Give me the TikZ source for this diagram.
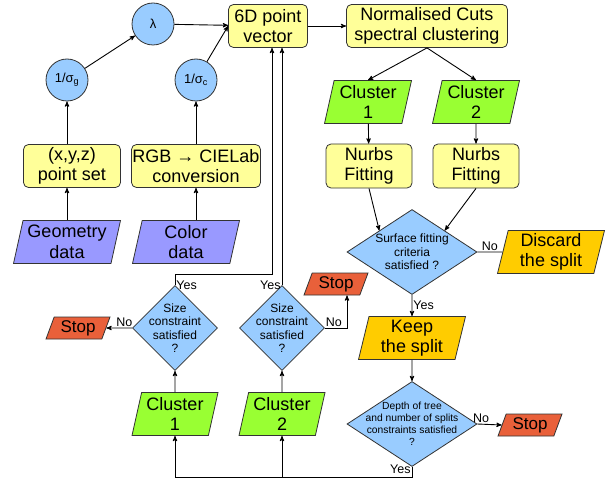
\documentclass[tikz,border=0pt]{standalone}
\usepackage{fontspec}
\setmainfont{Liberation Sans}
\usetikzlibrary{arrows}
\usetikzlibrary{shapes.geometric}

\definecolor{boxyellow}{HTML}{FFFF99}
\definecolor{paleblue}{HTML}{99CCFF}
\definecolor{datablue}{HTML}{9999FF}
\definecolor{clustergreen}{HTML}{99FF33}
\definecolor{stopred}{HTML}{E9603A}
\definecolor{splitorange}{HTML}{FFCC00}
\definecolor{linegray}{HTML}{333333}

\tikzset{
 every node/.style={font=\fontsize{18}{20.5}\selectfont, align=center},
 procbox/.style={draw=linegray, line width=0.8, fill=boxyellow, rounded corners=5, inner sep=0, minimum height=43},
 weightnode/.style={circle, draw=linegray, line width=0.8, fill=paleblue, minimum size=42, inner sep=0, font=\fontsize{13}{15}\selectfont},
 iobox/.style={trapezium, trapezium left angle=74, trapezium right angle=106, trapezium stretches body, draw=linegray, line width=0.8, inner sep=0, minimum height=43},
 stopbox/.style={iobox, fill=stopred, minimum height=22, minimum width=64, trapezium left angle=62, trapezium right angle=118, font=\fontsize{17}{19}\selectfont},
 decision/.style={diamond, draw=linegray, line width=0.8, fill=paleblue, inner sep=0},
 flow/.style={->, >=stealth', line width=0.9},
 tag/.style={font=\fontsize{12.5}{14}\selectfont, inner sep=1},
}

\begin{document}
\begin{tikzpicture}[x=1pt, y=-1pt]
\useasboundingbox (0,0) rectangle (609,481);

% data and preprocessing
\node[iobox, fill=datablue, minimum width=107] (geo) at (67,242) {Geometry\\data};
\node[iobox, fill=datablue, minimum width=107] (col) at (186,242) {Color\\data};
\node[procbox, minimum width=97] (xyz) at (72,166) {(x,y,z)\\point set};
\node[procbox, minimum width=129] (rgb) at (196,166) {RGB → CIELab\\conversion};
\node[weightnode] (sg) at (67,80) {1/σ\textsubscript{g}};
\node[weightnode] (sc) at (196,80) {1/σ\textsubscript{c}};
\node[weightnode] (lam) at (153,24) {λ};
\node[procbox, minimum width=79] (vec) at (268,26) {6D point\\vector};
\node[procbox, minimum width=161] (ncut) at (427,26) {Normalised Cuts\\spectral clustering};

% splitting branch
\node[iobox, fill=clustergreen, minimum width=87] (cla) at (368,102) {Cluster\\1};
\node[iobox, fill=clustergreen, minimum width=87] (clb) at (476,102) {Cluster\\2};
\node[procbox, minimum width=86, minimum height=44] (nfa) at (369,166) {Nurbs\\Fitting};
\node[procbox, minimum width=86, minimum height=44] (nfb) at (476,166) {Nurbs\\Fitting};
\node[decision, minimum width=130, minimum height=85,
 label={[font=\fontsize{12}{13.5}\selectfont, align=center]center:Surface fitting\\criteria\\satisfied ?}] (sfit) at (412,252) {};
\node[iobox, fill=splitorange, minimum width=107] (disc) at (551,252) {Discard\\the split};
\node[iobox, fill=splitorange, minimum width=107] (keep) at (412,338) {Keep\\the split};
\node[decision, minimum width=130, minimum height=85,
 label={[font=\fontsize{10.3}{12}\selectfont, align=center]center:Depth of tree\\and number of splits\\constraints satisfied\\?}] (depth) at (412,424) {};
\node[stopbox] (stopr) at (530,425) {Stop};

% size checks
\node[iobox, fill=clustergreen, minimum width=86] (clc) at (175,414) {Cluster\\1};
\node[iobox, fill=clustergreen, minimum width=86] (cld) at (282,414) {Cluster\\2};
\node[decision, minimum width=85, minimum height=85,
 label={[font=\fontsize{12}{13.5}\selectfont, align=center]center:Size\\constraint\\satisfied\\?}] (sza) at (175,328) {};
\node[decision, minimum width=85, minimum height=85,
 label={[font=\fontsize{12}{13.5}\selectfont, align=center]center:Size\\constraint\\satisfied\\?}] (szb) at (282,328) {};
\node[stopbox] (stopl) at (78,328) {Stop};
\node[stopbox] (stopm) at (336,284) {Stop};
\coordinate (base) at (412,477);

% connectors
\draw[flow] (geo.north) -- (geo.north |- xyz.south);
\draw[flow] (rgb.south |- col.north) -- (rgb.south);
\draw[flow] (sg.south |- xyz.north) -- (sg);
\draw[flow] (rgb) -- (sc);
\draw[flow] (sg) -- (lam);
\draw[flow] (lam) -- (vec);
\draw[flow] (sc) -- (vec.west);
\draw[flow] (vec) -- (ncut);
\draw[flow] (ncut.south) -- (cla.north);
\draw[flow] (ncut.south) -- (clb.north);
\draw[flow] (cla) -- (nfa);
\draw[flow] (clb) -- (nfb);
\draw[flow] (nfa.south) -- (sfit.north west);
\draw[flow] (nfb.south) -- (sfit.north east);
\draw[line width=0.9] (sfit.east) -- node[tag, above]{No} (disc.west);
\draw[flow] (sfit.south) -- node[tag, right]{Yes} (keep.north);
\draw[flow] (keep) -- (depth);
\draw[flow] (depth.east) -- node[tag, above, pos=0.15]{No} (stopr.west);
\draw[flow] (depth.south) -- node[tag, left, pos=0.2]{Yes} (base) -| (clc.south);
\draw[flow] (cld.south |- base) -- (cld.south);
\draw[flow] (clc) -- (sza);
\draw[flow] (cld) -- (szb);
\draw[flow] (sza.west) -- node[tag, above, pos=0.3]{No} (stopl.east);
\draw[flow] (szb.east) -| node[tag, above, pos=0.2]{No} ([xshift=11]stopm.south);
\draw[flow] (sza.north) -- node[tag, right, pos=0]{Yes} ++(0,-11) -| ([xshift=4]vec.south);
\draw[flow] (szb.north) -- node[tag, left, pos=0]{Yes} (szb.north |- vec.south);
\end{tikzpicture}
\end{document}
